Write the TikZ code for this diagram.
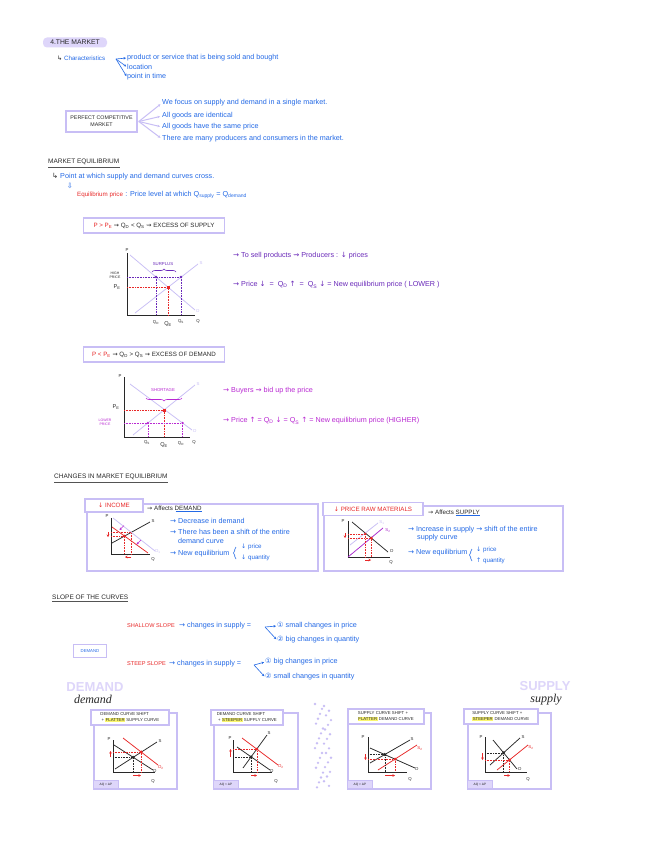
\documentclass[tikz,border=0pt]{standalone}
\usepackage{fontspec}
\setmainfont{Liberation Sans}
\newfontfamily\symf{DejaVu Sans}
\newfontfamily\scrf{Liberation Serif}
\usetikzlibrary{arrows.meta,decorations.pathreplacing}
\definecolor{lav}{RGB}{200,190,245}
\definecolor{lavfill}{RGB}{222,214,250}
\definecolor{cblue}{RGB}{35,105,230}
\definecolor{cpur}{RGB}{105,40,185}
\definecolor{cmag}{RGB}{185,40,210}
\definecolor{cred}{RGB}{232,40,40}
\definecolor{hly}{RGB}{250,245,110}
\definecolor{ink}{RGB}{40,40,40}
\newcommand\fs{\fontsize{5.6}{6.6}\selectfont}
\newcommand\fb{\fontsize{7.2}{8}\selectfont}
\newcommand\fm{\fontsize{6.2}{7}\selectfont}
\newcommand\fss{\fontsize{4.3}{5.2}\selectfont}
\newcommand\sbs[1]{\textsubscript{#1}}
\newcommand\myra{{\symf →}}
\newcommand\mysq{{\symf ⇝}}
\newcommand\mydn{{\symf ↓}}
\newcommand\myup{{\symf ↑}}
\newcommand\myhook{{\symf ↳}}
\newcommand\hlt[1]{{\setlength{\fboxsep}{0.5pt}\colorbox{hly}{#1}}}
\begin{document}
\begin{tikzpicture}[x=1pt,y=-1pt,
  txt/.style={font=\fs, inner sep=0pt, anchor=west},
  tb/.style={txt, font=\fb, text=cblue},
  tp/.style={txt, font=\fb, text=cpur},
  tm/.style={txt, font=\fb, text=cmag},
  tr/.style={txt, font=\fs, text=cred},
  lbl/.style={font=\fss, inner sep=0pt, text=ink},
  lavbox/.style={draw=lav, line width=1.6pt},
  axis/.style={line width=1pt, draw=ink},
  curve/.style={line width=0.75pt},
  dots/.style={densely dotted, line width=0.6pt},
  heading/.style={txt, font=\fontsize{6.5}{7.5}\selectfont, text=ink},
  uline/.style={line width=1pt, draw=ink!80},
  arr/.style={-{Stealth[length=2.5pt,width=2.5pt]}, line width=0.6pt},
  hdr/.style={lavbox, fill=white, font=\fss, text=ink, align=left, anchor=north west, inner sep=1.5pt, minimum height=15pt},
  gframe/.style={lavbox, anchor=north west, minimum width=83pt, minimum height=76pt, inner sep=0pt},
  tag/.style={draw=lav, fill=lavfill, line width=0.8pt, anchor=north west, minimum width=25pt, minimum height=8pt, inner sep=0pt, font=\fontsize{3.2}{4}\selectfont, text=ink}
]
\fill[white] (0,0) rectangle (646,848);
\useasboundingbox (0,0) rectangle (646,848);

% ---------- title ----------
\node[fill=lavfill, rounded corners=4pt, minimum width=64pt, minimum height=10pt, inner sep=0pt, font=\fontsize{6.8}{7.5}\selectfont, text=ink] (title) at (75,42.5) {4.THE MARKET};

\node[tb, font=\fm] (charh) at (57,58) {\textcolor{ink}{\myhook}\ Characteristics};
\coordinate (cfork) at (116,59);
\node[tb] (ch1) at (127,58) {product or service that is being sold and bought};
\node[tb] (ch2) at (127,67) {location};
\node[tb] (ch3) at (127,77) {point in time};
\foreach \n in {ch1,ch2,ch3} \draw[arr, cblue, shorten >=1pt] (cfork) -- (\n.west);

% ---------- perfect competitive market ----------
\node[lavbox, minimum width=71pt, minimum height=21pt, inner sep=1pt, align=center, font=\fontsize{5.3}{6}\selectfont, text=ink] (pcm) at (101.5,121.5) {PERFECT COMPETITIVE\\[1pt]MARKET};
\node[tb] (pc1) at (162,103) {We focus on supply and demand in a single market.};
\node[tb] (pc2) at (162,116) {All goods are identical};
\node[tb] (pc3) at (162,127) {All goods have the same price};
\node[tb] (pc4) at (162,139) {There are many producers and consumers in the market.};
\foreach \n in {pc1,pc2,pc3,pc4} \draw[arr, lav, line width=1pt, shorten >=2pt] ([xshift=1pt]pcm.east) -- (\n.west);

% ---------- market equilibrium ----------
\node[heading] (meq) at (48,162) {MARKET EQUILIBRIUM};
\draw[uline] ([yshift=-2pt]meq.south west) -- ([yshift=-2pt]meq.south east);
\node[txt, font=\fb] (pt) at (52,177) {\textcolor{ink}{\myhook}\ \textcolor{cblue}{Point at which supply and demand curves cross.}};
\node[inner sep=0pt, font=\symf\fb, text=cblue] (darr) at (70,186) {⇩};
\node[tr, font=\fm] (eqp) at (77,195) {Equilibrium price};
\node[tb] (eqd) at (eqp.east) {\ : Price level at which Q\sbs{supply} = Q\sbs{demand}};

% ---------- excess of supply ----------
\node[lavbox, minimum width=141pt, minimum height=15pt, inner sep=1pt, font=\fm, text=ink] (esb) at (154,225.5) {\textcolor{cred}{P > P\sbs{E}} \mysq\ Q\sbs{D} < Q\sbs{S} \mysq\ EXCESS OF SUPPLY};

\draw[axis] (127,253) -- (127,315) -- (195,315);
\node[lbl] (g1P) at (127,250) {P};
\node[lbl] (g1Q) at (198,321) {Q};
\draw[curve, lav] (135,313) -- (198,264);
\node[lbl, text=lav] (g1S) at (201,263) {S};
\draw[curve, lav] (130,255) -- (195,310);
\node[lbl, text=lav] (g1D) at (198,311) {D};
\draw[dots, cpur] (127,277) -- (181,277);
\draw[dots, cpur] (156,277) -- (156,315);
\draw[dots, cpur] (181,277) -- (181,315);
\fill[cpur] (156,277) circle (1.3);
\fill[cpur] (181,277) circle (1.3);
\draw[dots, cred] (127,287) -- (168,287) -- (168,315);
\fill[cred] (166.5,285.5) rectangle (169.5,288.5);
\node[lbl, text=cpur] (g1sur) at (163,264) {SURPLUS};
\draw[cpur, line width=0.6pt, decorate, decoration={brace, amplitude=3pt}] (152,272) -- (176,272);
\node[lbl, align=center, font=\fontsize{3.5}{4}\selectfont] (g1hp) at (115,275) {HIGH\\PRICE};
\node[lbl, font=\fs] (g1pe) at (117,287) {P\sbs{E}};
\node[lbl] (g1qd) at (156,322) {Q\sbs{D}};
\node[lbl, font=\fs] (g1qe) at (168,324) {Q\sbs{E}};
\node[lbl] (g1qs) at (181,322) {Q\sbs{S}};

\node[tp] (r1) at (233,256) {\myra\ To sell products \mysq\ Producers : \mydn\ prices};
\node[tp] (r2) at (233,285) {\myra\ Price \mydn\ \ =\ \ Q\sbs{D} \myup\ \ =\ \ Q\sbs{S} \mydn\ = New equilibrium price ( LOWER )};

% ---------- excess of demand ----------
\node[lavbox, minimum width=141pt, minimum height=15pt, inner sep=1pt, font=\fm, text=ink] (edb) at (154,354.5) {\textcolor{cred}{P < P\sbs{E}} \mysq\ Q\sbs{D} > Q\sbs{S} \mysq\ EXCESS OF DEMAND};

\draw[axis] (124,377) -- (124,437) -- (190,437);
\node[lbl] (g2P) at (120,376) {P};
\node[lbl] (g2Q) at (194,442) {Q};
\draw[curve, lav] (133,435) -- (195,385);
\node[lbl, text=lav] (g2S) at (198,384) {S};
\draw[curve, lav] (130,384) -- (192,430);
\node[lbl, text=lav] (g2D) at (195,431) {D};
\draw[dots, cred] (124,410.6) -- (164.5,410.6) -- (164.5,437);
\fill[cred] (163,409.1) rectangle (166,412.1);
\draw[dots, cmag] (124,423) -- (182.6,423);
\draw[dots, cmag] (147.9,423) -- (147.9,437);
\draw[dots, cmag] (182.6,423) -- (182.6,437);
\fill[cmag] (147.9,423) circle (1.3);
\fill[cmag] (182.6,423) circle (1.3);
\node[lbl, text=cmag] (g2sh) at (163,390) {SHORTAGE};
\draw[cmag, line width=0.6pt, decorate, decoration={brace, amplitude=3pt, mirror}] (146,398) -- (182,398);
\node[lbl, font=\fs] (g2pe) at (116,407) {P\sbs{E}};
\node[lbl, text=cmag, align=center, font=\fontsize{3.5}{4}\selectfont] (g2lp) at (105,422) {LOWER\\PRICE};
\node[lbl] (g2qs) at (147,443) {Q\sbs{S}};
\node[lbl, font=\fs] (g2qe) at (164,445) {Q\sbs{E}};
\node[lbl] (g2qd) at (181,443) {Q\sbs{D}};

\node[tm] (r3) at (223,391) {\myra\ Buyers \mysq\ bid up the price};
\node[tm] (r4) at (223,421) {\myra\ Price \myup\ = Q\sbs{D} \mydn\ = Q\sbs{S} \myup\ = New equilibrium price (HIGHER)};

% ---------- changes in market equilibrium ----------
\node[heading] (cme) at (54,477) {CHANGES IN MARKET EQUILIBRIUM};
\draw[uline] ([yshift=-2pt]cme.south west) -- ([yshift=-2pt]cme.south east);

% income box
\node[lavbox, anchor=north west, minimum width=231pt, minimum height=67pt, inner sep=0pt] (ibox) at (86,503) {};
\node[lavbox, fill=white, minimum width=58pt, minimum height=13pt, inner sep=0pt, font=\fm, text=cred] (itab) at (114,505.5) {\mydn\ INCOME};
\node[txt, font=\fm, text=ink] (iaff) at (147,508) {\myra\ Affects DEMAND};
\draw[cblue, line width=0.5pt] ([xshift=-26pt,yshift=-1pt]iaff.south east) -- ([yshift=-1pt]iaff.south east);

\draw[axis] (111,518) -- (111,554) -- (150,554);
\node[lbl] (iP) at (107,516) {P};
\node[lbl] (iQ) at (153,559) {Q};
\draw[curve, ink] (112,543) -- (150,522);
\node[lbl] (iS) at (153,521) {S};
\draw[curve, lav] (113,518) -- (155,551);
\node[lbl, text=lav] (iD1) at (158,552) {D\sbs{1}};
\draw[curve, cred] (112,527) -- (148,553);
\draw[arr, cmag] (124,525.5) -- (119.5,530);
\draw[arr, cmag] (141,540) -- (136.5,544.5);
\draw[dots, cred] (111,532.4) -- (131.3,532.4) -- (131.3,554);
\draw[dots, cred] (111,536.1) -- (124.6,536.1) -- (124.6,554);
\fill[cred] (124.6,536.1) circle (1.5);
\draw[arr, cred, line width=0.5pt] (108,532) -- (108,537);
\draw[arr, cred, line width=0.5pt] (131,557) -- (125,557);

\node[tb] (i1) at (170,521) {\myra\ Decrease in demand};
\node[tb] (i2) at (170,532) {\myra\ There has been a shift of the entire};
\node[tb] (i2b) at (178,541) {demand curve};
\node[tb] (i3) at (170,554) {\myra\ New equilibrium};
\draw[cblue, line width=0.6pt, decorate, decoration={brace, amplitude=2.5pt}] (236,559) -- (236,547);
\node[tb, font=\fm] (i3a) at (241,547) {\mydn\ price};
\node[tb, font=\fm] (i3b) at (241,558) {\mydn\ quantity};

% raw materials box
\node[lavbox, anchor=north west, minimum width=239pt, minimum height=65pt, inner sep=0pt] (rbox) at (323,505) {};
\node[lavbox, fill=white, minimum width=100pt, minimum height=13pt, inner sep=0pt, font=\fm, text=cred] (rtab) at (373,509) {\mydn\ PRICE RAW MATERIALS};
\node[txt, font=\fm, text=ink] (raff) at (428,512) {\myra\ Affects SUPPLY};
\draw[cblue, line width=0.5pt] ([xshift=-24pt,yshift=-1pt]raff.south east) -- ([yshift=-1pt]raff.south east);

\draw[axis] (348,521) -- (348,557) -- (390,557);
\node[lbl] (rP) at (343,521) {P};
\node[lbl] (rQ) at (391,562) {Q};
\draw[curve, ink] (352,522) -- (388,552);
\node[lbl] (rD) at (392,551) {D};
\draw[curve, lav] (350,545) -- (378,523);
\node[lbl, text=lav] (rS1) at (382,522) {S\sbs{1}};
\draw[curve, cmag!80!cpur] (348,557) -- (383,528);
\node[lbl, text=cmag!80!cpur] (rS2) at (388,530) {S\sbs{2}};
\draw[dots, cred] (348,533.8) -- (365.3,533.8) -- (365.3,557);
\draw[dots, cred] (348,538.1) -- (371.4,538.1) -- (371.4,557);
\fill[cred] (371.4,538.1) circle (1.5);
\fill[cred] (365.3,533.8) circle (1.2);
\draw[arr, cred, line width=0.5pt] (345,533) -- (345,538);
\draw[arr, cred, line width=0.5pt] (365,560) -- (371,560);

\node[tb] (rt1) at (408,530) {\myra\ Increase in supply \myra\ shift of the entire};
\node[tb] (rt1b) at (417,538) {supply curve};
\node[tb] (rt2) at (408,553) {\myra\ New equilibrium};
\draw[cblue, line width=0.6pt, decorate, decoration={brace, amplitude=2.5pt}] (472,561) -- (472,549);
\node[tb, font=\fm] (rt2a) at (476,550) {\mydn\ price};
\node[tb, font=\fm] (rt2b) at (476,561) {\myup\ quantity};

% ---------- slope of the curves ----------
\node[heading] (slo) at (52,597) {SLOPE OF THE CURVES};
\draw[uline] ([yshift=-2pt]slo.south west) -- ([yshift=-2pt]slo.south east);

\node[tr] (sh) at (127,626) {SHALLOW SLOPE};
\node[tb] (sh2) at (179,626) {\myra\ changes in supply =};
\coordinate (shf) at (265,627);
\node[tb] (sh3) at (277,626) {{\symf ①} small changes in price};
\node[tb] (sh4) at (277,640) {{\symf ②} big changes in quantity};
\draw[arr, cblue, shorten >=1pt] (shf) -- (sh3.west);
\draw[arr, cblue, shorten >=1pt] (shf) -- (sh4.west);

\node[lavbox, minimum width=33pt, minimum height=13pt, inner sep=0pt, font=\fss, text=cblue] (dem) at (90,651) {DEMAND};

\node[tr] (st) at (127,664) {STEEP SLOPE};
\node[tb] (st2) at (169,664) {\myra\ changes in supply =};
\coordinate (stf) at (254,665);
\node[tb] (st3) at (265,662) {{\symf ①} big changes in price};
\node[tb] (st4) at (265,677) {{\symf ②} small changes in quantity};
\draw[arr, cblue, shorten >=1pt] (stf) -- (st3.west);
\draw[arr, cblue, shorten >=1pt] (stf) -- (st4.west);

% ---------- demand / supply titles ----------
\node[inner sep=0pt, font=\fontsize{13}{13}\selectfont\bfseries, text=lavfill] (dembig) at (95,687) {DEMAND};
\node[inner sep=0pt, font=\scrf\itshape\fontsize{12}{12}\selectfont, text=ink] (demscr) at (93,699.5) {demand};
\node[inner sep=0pt, font=\fontsize{13}{13}\selectfont\bfseries, text=lavfill] (supbig) at (545,686) {SUPPLY};
\node[inner sep=0pt, font=\scrf\itshape\fontsize{12}{12}\selectfont, text=ink] (supscr) at (546,699.5) {supply};

% dots column
\foreach \i in {0,...,17} {
  \fill[lav] ({315+mod(\i*7,9)}, {704+\i*4.9}) circle (1.3);
  \fill[lav] ({324+mod(\i*5,8)}, {706+\i*4.7}) circle (1.3);
}

% ---------- box A ----------
\node[gframe] (fA) at (93,712) {};
\node[hdr, minimum width=78pt] (hA) at (90,709) {DEMAND CURVE SHIFT\\\ + \hlt{FLATTER} SUPPLY CURVE};
\node[tag] (tA) at (93,780) {ΔQ > ΔP};
\draw[axis] (113,740) -- (113,772) -- (155,772);
\node[lbl] (aP) at (109,739) {P};
\node[lbl] (aQ) at (153,781) {Q};
\draw[curve, ink] (115,769) -- (157,742);
\node[lbl] (aS) at (160,741) {S};
\draw[curve, ink] (114,745) -- (153,770);
\node[lbl] (aD) at (155,771) {D};
\draw[curve, cred] (123,738) -- (158,765);
\node[lbl, text=cred] (aD2) at (161,768) {D\sbs{2}};
\draw[dots, ink] (113,757.3) -- (133.2,757.3) -- (133.2,772);
\draw[dots, cred] (113,752) -- (141.3,752) -- (141.3,772);
\fill[ink] (133.2,757.3) circle (1.6);
\fill[cred] (141.3,752) circle (1.6);
\draw[arr, cred, line width=0.5pt] (110.5,757) -- (110.5,751);
\draw[arr, cred, line width=0.5pt] (133,775.5) -- (141,775.5);

% ---------- box B ----------
\node[gframe, minimum width=84pt] (fB) at (213,712) {};
\node[hdr, minimum width=72pt] (hB) at (210,709) {DEMAND CURVE SHIFT\\\ + \hlt{STEEPER} SUPPLY CURVE};
\node[tag] (tB) at (213,780) {ΔQ < ΔP};
\draw[axis] (233,740) -- (233,772) -- (272,772);
\node[lbl] (bP) at (230,738) {P};
\node[lbl] (bQ) at (276,781) {Q};
\draw[curve, ink] (243,768) -- (267,735);
\node[lbl] (bS) at (269,733) {S};
\draw[curve, ink] (237,747) -- (270,770);
\node[lbl] (bD) at (272,771) {D};
\draw[curve, cred] (242,738) -- (278,765);
\node[lbl, text=cred] (bD2) at (281,767) {D\sbs{2}};
\draw[dots, ink] (233,756.9) -- (251.1,756.9) -- (251.1,772);
\draw[dots, cred] (233,749.1) -- (256.8,749.1) -- (256.8,772);
\fill[ink] (251.1,756.9) circle (1.6);
\fill[cred] (256.8,749.1) circle (1.6);
\draw[arr, cred, line width=0.5pt] (230.5,757) -- (230.5,749);
\draw[arr, cred, line width=0.5pt] (251,775.5) -- (257,775.5);

% ---------- box C ----------
\node[gframe] (fC) at (347,712) {};
\node[hdr, minimum width=76pt] (hC) at (347,708) {SUPPLY CURVE SHIFT +\\\hlt{FLATTER} DEMAND CURVE};
\node[tag] (tC) at (347,780) {ΔQ > ΔP};
\draw[axis] (368,737) -- (368,772) -- (407,772);
\node[lbl] (cP) at (363,737) {P};
\node[lbl] (cQ) at (410,779) {Q};
\draw[curve, ink] (370,763) -- (410,740);
\node[lbl] (cS) at (412,739) {S};
\draw[curve, cred] (378,770) -- (417,745);
\node[lbl, text=cred] (cS2) at (420,748) {S\sbs{2}};
\draw[curve, ink] (370,748) -- (415,768);
\node[lbl] (cD) at (417,769) {D};
\draw[dots, ink] (368,754.5) -- (384.8,754.5) -- (384.8,772);
\draw[dots, cred] (368,759.1) -- (395.1,759.1) -- (395.1,772);
\fill[ink] (384.8,754.5) circle (1.6);
\fill[cred] (395.1,759.1) circle (1.6);
\draw[arr, cred, line width=0.5pt] (365.5,754) -- (365.5,760);
\draw[arr, cred, line width=0.5pt] (385,775.5) -- (395,775.5);

% ---------- box D ----------
\node[gframe] (fD) at (467,712) {};
\node[hdr, minimum width=74pt] (hD) at (463,708) {SUPPLY CURVE SHIFT +\\\hlt{STEEPER} DEMAND CURVE};
\node[tag] (tD) at (467,780) {ΔQ < ΔP};
\draw[axis] (485,737) -- (485,772) -- (527,772);
\node[lbl] (dP) at (481,737) {P};
\node[lbl] (dQ) at (528,779) {Q};
\draw[curve, ink] (493,740) -- (517,769);
\node[lbl] (dD) at (520,769) {D};
\draw[curve, ink] (490,765) -- (520,738);
\node[lbl] (dS) at (523,737) {S};
\draw[curve, cred] (497,770) -- (528,745);
\node[lbl, text=cred] (dS2) at (531,747) {S\sbs{2}};
\draw[dots, ink] (485,752.8) -- (503.6,752.8) -- (503.6,772);
\draw[dots, cred] (485,760) -- (509.6,760) -- (509.6,772);
\fill[ink] (503.6,752.8) circle (1.6);
\fill[cred] (509.6,760) circle (1.6);
\draw[arr, cred, line width=0.5pt] (482.5,753) -- (482.5,760);
\draw[arr, cred, line width=0.5pt] (504,775.5) -- (510,775.5);
\end{tikzpicture}
\end{document}
